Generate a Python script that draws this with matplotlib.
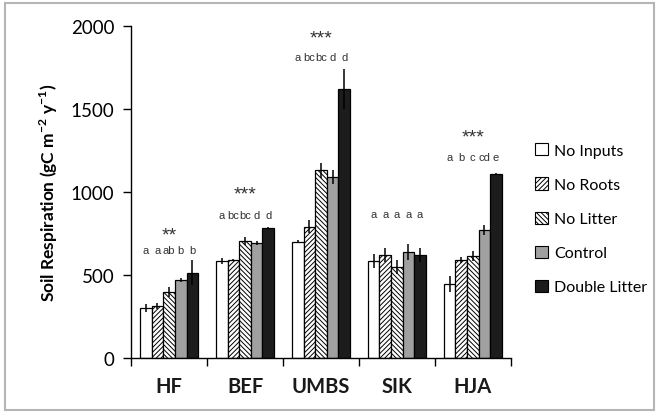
import matplotlib
matplotlib.use("Agg")
import matplotlib.pyplot as plt
import numpy as np
from matplotlib.patches import Rectangle, Patch

sites = ["HF", "BEF", "UMBS", "SIK", "HJA"]
treatments = ["No Inputs", "No Roots", "No Litter", "Control", "Double Litter"]
values = {
    "No Inputs":     [300, 584, 700, 584, 446],
    "No Roots":      [313, 590, 790, 620, 590],
    "No Litter":     [398, 705, 1130, 548, 615],
    "Control":       [470, 693, 1090, 638, 771],
    "Double Litter": [512, 783, 1622, 620, 1108],
}
errors = {
    "No Inputs":     [22, 18, 8, 45, 50],
    "No Roots":      [20, 5, 40, 45, 18],
    "No Litter":     [28, 25, 45, 40, 30],
    "Control":       [12, 10, 45, 50, 30],
    "Double Litter": [75, 8, 120, 45, 8],
}
letters = [
    ["a", "a", "ab", "b", "b"],
    ["a", "bc", "bc", "d", "d"],
    ["a", "bc", "bc", "d", "d"],
    ["a", "a", "a", "a", "a"],
    ["a", "b", "c", "cd", "e"],
]
letter_y = [650, 861, 1813, 867, 1211]
stars = ["**", "***", "***", "", "***"]
star_y = [741, 988, 1928, None, 1331]
yticks = [0, 500, 1000, 1500, 2000]

faces = ["white", "white", "white", "#a0a0a0", "#1c1c1c"]
hatches = [None, "///////", "\\\\\\\\\\\\\\", None, None]

plt.rcParams["hatch.linewidth"] = 0.7
plt.rcParams["mathtext.fontset"] = "custom"
plt.rcParams["mathtext.rm"] = "Lato"
plt.rcParams["mathtext.bf"] = "Lato:bold"

fig = plt.figure(figsize=(6.59, 4.14), dpi=100)
fig.patches.append(Rectangle((0.008, 0.008), 0.984, 0.982, transform=fig.transFigure,
                             fill=False, edgecolor="#b5b5b5", linewidth=1.5))
ax = fig.add_axes([0.199, 0.133, 0.576, 0.802])

x = np.arange(len(sites))
bw = 0.153
for i, t in enumerate(treatments):
    pos = x - 2 * bw + i * bw
    ax.bar(pos, values[t], width=bw, color=faces[i], edgecolor="black",
           linewidth=0.9, hatch=hatches[i], label=t, zorder=2)
    ax.errorbar(pos, values[t], yerr=errors[t], fmt="none", ecolor="black",
                elinewidth=1.1, capsize=0, zorder=3)

for g in range(len(sites)):
    for i in range(5):
        ax.text(x[g] - 2 * bw + i * bw, letter_y[g], letters[g][i], ha="center",
                va="center", fontsize=8, color="#333333", family="Liberation Sans")
    if stars[g]:
        ax.text(x[g], star_y[g], stars[g], ha="center", va="center", fontsize=14,
                color="#333333", family="Liberation Sans")

ax.set_xlim(-0.5, len(sites) - 0.5)
ax.set_ylim(0, 2000)
ax.set_yticks(yticks)
ax.set_yticklabels([str(v) for v in yticks], family="Lato", fontsize=13.5)
ax.set_xticks(np.arange(-0.5, len(sites)), minor=False)
ax.set_xticklabels([])
ax.set_xticks(x, minor=True)
ax.set_xticklabels(sites, minor=True, family="Lato", fontsize=14.5, fontweight="bold",
                   color="#1a1a1a")
ax.tick_params(axis="x", which="major", direction="out", length=6, width=1)
ax.tick_params(axis="x", which="minor", length=0, pad=13)
ax.tick_params(axis="y", direction="out", length=6, width=1, pad=6)
for s in ["top", "right"]:
    ax.spines[s].set_visible(False)
for s in ["left", "bottom"]:
    ax.spines[s].set_linewidth(1.0)

ax.set_ylabel(r"Soil Respiration (gC m$^{\mathbf{-2}}$ y$^{\mathbf{-1}}$)", family="Lato",
              fontsize=12.5, fontweight="bold", labelpad=8)

handles = [Patch(facecolor=faces[i], edgecolor="black", hatch=hatches[i], linewidth=0.8)
           for i in range(5)]
fig.legend(handles, treatments, loc="center left", bbox_to_anchor=(0.79, 0.469),
           frameon=False, prop={"family": "Lato", "size": 11.5}, handlelength=0.8,
           handleheight=0.8, handletextpad=0.4, labelspacing=1.22)

fig.savefig("out.png", dpi=100)
